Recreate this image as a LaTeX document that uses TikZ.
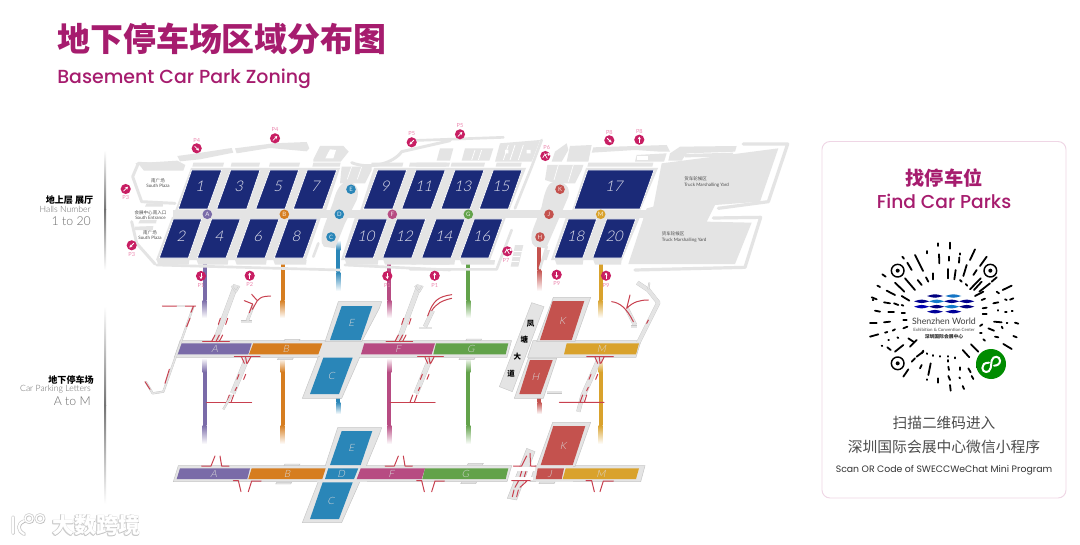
\documentclass[tikz,border=0pt]{standalone}
\usepackage{fontspec}
\usetikzlibrary{arrows.meta,calc,shapes.geometric}
\setmainfont{Lato}
\newfontfamily\cjk{Noto Sans CJK SC}
\newfontfamily\pop{Poppins}
\newfontfamily\popm{Poppins Medium}
\newfontfamily\lgt{Lato Light}
\newfontfamily\hallf{Lato Light}[FakeSlant=0.22]
\definecolor{brand}{HTML}{A61C6E}
\definecolor{hallblue}{HTML}{1B2A78}
\definecolor{ground}{HTML}{E4E4E4}
\definecolor{edgegray}{HTML}{C6C6C6}
\definecolor{pinred}{HTML}{C81E63}
\definecolor{pinlabel}{HTML}{EC86AE}
\definecolor{rampred}{HTML}{C8404F}
\definecolor{cA}{HTML}{7A6BA8}
\definecolor{cB}{HTML}{D67D1F}
\definecolor{cC}{HTML}{2A86B8}
\definecolor{cF}{HTML}{B74B82}
\definecolor{cG}{HTML}{62A24A}
\definecolor{cH}{HTML}{C4524E}
\definecolor{cM}{HTML}{D9A22C}
\definecolor{txtgray}{HTML}{6A6A6A}
\tikzset{
 hallbox/.style={fill=hallblue,draw=white,line width=.5pt},
 plate/.style={fill=ground,draw=edgegray,line width=.35pt},
 roadg/.style={draw=ground,line width=#1,line cap=round,line join=round},
 strip/.style={draw=edgegray,double=ground,double distance=#1,line width=.25pt,line join=round},
 ramp/.style={draw=rampred,line width=.75pt,line cap=round,line join=round},
 pinball/.style={circle,fill=pinred,minimum size=7.6pt,inner sep=0pt},
 pintext/.style={text=pinlabel,font=\fontsize{4.2}{5}\selectfont,inner sep=0pt},
 pinarrow/.style={draw=white,line width=.55pt,-{Stealth[length=2.2pt,width=2.4pt]}},
 zoneball/.style={circle,fill=#1,minimum size=7.2pt,inner sep=0pt,text=white!85!#1,font=\fontsize{4.5}{5}\selectfont},
 halltext/.style={text=white!88!hallblue,font=\hallf\fontsize{11}{12}\selectfont,inner sep=0pt},
 zonetext/.style={text=white!85!black,font=\hallf\fontsize{7.5}{8}\selectfont,inner sep=0pt},
 plazatext/.style={text=black!70,font=\fontsize{3.4}{4}\selectfont,inner sep=0pt,align=center},
 qrdash/.style={draw=black,line width=1.35pt,line cap=round},
}
\newcommand\fadebar[6]{%
 \shade[top color=white,bottom color=#6] (#1-2,#2) rectangle (#1+2,#3);
 \fill[#6] (#1-2,#3-.3) rectangle (#1+2,#4+.3);
 \shade[top color=#6,bottom color=white] (#1-2,#4) rectangle (#1+2,#5);}
\newcommand\pinmark[7]{%
 \node[pinball] (#1) at (#2,#3) {};
 \node[pintext] (#1t) at (#5,#6) {#4};
 \draw[pinarrow] ($(#1.center)+(#7+180:3)$) -- ($(#1.center)+(#7:3.2)$);}
\newcommand\pinturn[6]{%
 \node[pinball] (#1) at (#2,#3) {};
 \node[pintext] (#1t) at (#5,#6) {#4};
 \draw[pinarrow] ($(#1.center)+(-2.5,1.8)$) .. controls +(-.5,-3) and +(3,-3.5) .. ($(#1.center)+(2.6,-.2)$);
 \draw[draw=white,line width=.55pt] ($(#1.center)+(-1,-2.5)$) -- ($(#1.center)+(2,2.5)$);}
\begin{document}
\begin{tikzpicture}[x=.75pt,y=-.75pt]
\useasboundingbox (0,0) rectangle (1080,545);
\fill[white] (0,0) rectangle (1080,545);
% titles
\node[anchor=west,inner sep=0pt,text=brand,font=\cjk\bfseries\fontsize{24.7}{28}\selectfont] (title) at (57,39) {地下停车场区域分布图};
\node[anchor=west,inner sep=0pt,text=brand,font=\popm\fontsize{14.2}{18}\selectfont] (subtitle) at (57,78.5) {Basement Car Park Zoning};
% left rules
\shade[top color=white,bottom color=black!55] (104,150) rectangle (106,210);
\shade[top color=black!55,bottom color=white] (104,210) rectangle (106,270);
\shade[top color=white,bottom color=black!55] (104,306) rectangle (106,405);
\shade[top color=black!55,bottom color=white] (104,405) rectangle (106,504);
% left labels
\node[anchor=east,inner sep=0pt,font=\cjk\bfseries\fontsize{6.8}{8}\selectfont] (l1) at (93.5,200) {地上层 展厅};
\node[anchor=east,inner sep=0pt,text=txtgray,font=\lgt\fontsize{6.5}{8}\selectfont] (l2) at (91,209.5) {Halls Number};
\node[anchor=east,inner sep=0pt,text=txtgray,font=\lgt\fontsize{9.2}{10}\selectfont] (l3) at (91,220.7) {1 to 20};
\node[anchor=east,inner sep=0pt,font=\cjk\bfseries\fontsize{6.8}{8}\selectfont] (l4) at (94,379.5) {地下停车场};
\node[anchor=east,inner sep=0pt,text=txtgray,font=\lgt\fontsize{6.5}{8}\selectfont] (l5) at (91,388.8) {Car Parking Letters};
\node[anchor=east,inner sep=0pt,text=txtgray,font=\lgt\fontsize{9.2}{10}\selectfont] (l6) at (91,401.5) {A to M};
% vertical links
\foreach \xx/\cc in {204.7/cA,282.7/cB,389.3/cF,468.3/cG}{
 \fadebar{\xx}{257}{258}{300}{318}{\cc}
 \fadebar{\xx}{358}{372}{425}{444}{\cc}}
\fadebar{600.7}{219}{240}{300}{318}{cM}
\fadebar{600.7}{358}{372}{425}{444}{cM}
\fadebar{338.3}{240}{250}{272}{291}{cC}
\fadebar{338.3}{396}{398}{402}{414}{cC}
\fadebar{539.3}{244}{246}{270}{291}{cH}
\fadebar{539.3}{396}{398}{402}{414}{cH}
% ground plan: blocks behind halls
\fill[ground] (191,168)--(340,168)--(326,211)--(175,211)--cycle;
\fill[ground] (374,168)--(526,168)--(509,211)--(360,211)--cycle;
\fill[ground] (172,217)--(321,217)--(306,260)--(156,260)--cycle;
\fill[ground] (355,217)--(506,217)--(490,260)--(341,260)--cycle;
\fill[ground] (586,168)--(658,168)--(640,211)--(572,211)--cycle;
\fill[ground] (566,217)--(640,217)--(622,260)--(551,260)--cycle;
\fill[ground] (173,210) rectangle (650,218);
\begin{scope}[shift={(100,120)},x=.25pt,y=-.25pt]
 % hub D
 \fill[ground] (745,185)..controls(770,190)and(780,210)..(770,240)--(735,310)--(705,385)--(672,380)..controls(660,370)and(665,340)..(672,320)--(700,245)..controls(710,205)and(725,185)..(745,185)--cycle;
 % top band
 \fill[ground] (232,108)--(290,100)--(395,84)--(400,98)--(300,118)--(240,124)--cycle;
 \fill[ground] (405,85)--(520,70)--(620,66)--(628,85)--(620,94)--(510,84)--(410,100)--cycle;
 \fill[ground] (640,118)--(660,78)--(730,78)--(746,95)--(722,125)--(640,125)--cycle;
 \fill[white] (676,115)--(690,88)--(708,90)--(700,115)--cycle;
 \path[roadg=2.2pt] (232,135)--(115,130)--(98,170)--(125,245)--(225,250);
 \fill[ground] (105,130)--(232,122)--(256,135)--(250,152)--(132,152)--(118,135)--cycle;
 \fill[ground] (140,250)--(190,250)--(188,260)--(135,260)--cycle;
 \fill[ground] (120,300)--(170,300)--(168,310)--(115,310)--cycle;
 \fill[ground] (105,320)--(160,318)--(158,330)--(102,330)--cycle;
 \path[roadg=2.2pt] (95,305)--(110,370)--(165,432);
 % bars above halls
 \foreach \a/\b in {280/372,395/480,510/600,640/722,815/910,950/1050}{\fill[ground] (\a,128)--(\b,128)--(\b-3,140)--(\a-3,140)--cycle;}
 % east of hub top
 \fill[ground] (725,140)--(815,140)--(815,150)--(795,190)--(720,190)--cycle;
 \path[draw=white,line width=.5pt] (755,140)--(742,178) (785,140)--(772,178);
 \path[roadg=2.2pt] (755,128)..controls(810,150)and(880,130)..(905,95)--(1050,62);
 % bars below halls
 \foreach \a/\b in {170/268,290/385,405/500,520/620,735/835,850/950,965/1050}{\fill[ground] (\a,420)--(\b,420)--(\b-2,434)--(\a+5,434)--cycle;}
 \path[roadg=2pt] (170,435)--(720,450);
 \path[roadg=2pt] (640,410)--(655,370);
 \path[roadg=2pt] (735,435)--(1050,450);
\end{scope}
\begin{scope}[shift={(440,120)},x=.25pt,y=-.25pt]
 \fill[ground] (345,185)..controls(375,185)and(392,200)..(385,230)--(355,300)--(318,385)--(285,380)..controls(270,370)and(272,345)..(280,325)--(305,260)..controls(315,210)and(325,185)..(345,185)--cycle;
 \foreach \a/\b in {-90/20,35/135,170/245,445/640}{\fill[ground] (\a,128)--(\b,128)--(\b-3,140)--(\a-3,140)--cycle;}
 \foreach \a/\b in {-90/45,60/165,345/430,460/545}{\fill[ground] (\a,420)--(\b,420)--(\b-2,434)--(\a+5,434)--cycle;}
 \path[roadg=2pt] (-90,448)--(170,448)--(215,330);
 \path[roadg=2pt] (-90,62)--(190,52);
 \fill[ground] (0,85)--(40,85)--(30,122)--(-10,122)--cycle;
 \fill[ground] (75,85)--(160,85)--(148,122)--(65,122)--cycle;
 \draw[white,line width=.5pt] (105,90)--(95,120) (125,90)--(115,120);
 \fill[ground] (180,70)--(300,60)--(275,125)--(165,125)--cycle;
 \draw[white,line width=.6pt] (205,75)--(190,120) (225,75)--(210,120) (250,75)--(235,120);
 \fill[white] (260,90) rectangle (272,100) (195,90) rectangle (205,100);
 \path[roadg=2pt] (305,60)--(275,140)--(225,265);
 \fill[ground] (322,135)--(430,135)--(425,150)--(405,190)--(345,190)--(315,180)--cycle;
 \draw[white,line width=.5pt] (355,135)--(342,180) (400,135)--(385,185);
 \fill[ground] (345,95)--(380,70)--(385,90)--(365,125)--(335,125)--cycle;
 \fill[ground] (390,78)--(455,75)--(445,125)--(380,125)--cycle;
 \fill[ground] (460,82)--(680,75)--(690,95)--(660,95)--(585,90)--(455,98)--cycle;
 \fill[ground] (590,105)--(680,100)--(672,125)--(585,125)--cycle;
 \fill[white] (590,108) rectangle (625,120);
 \fill[ground] (690,100)--(720,80)--(890,78)--(885,95)--(740,100)--(725,122)--(685,122)--cycle;
 \fill[ground] (735,102)--(880,98)--(875,110)--(735,112)--cycle;
 % truck yards
 \fill[ground] (665,130)--(900,100)--(1015,85)--(960,245)--(825,255)--(800,305)--(935,308)--(885,432)--(565,432)--(620,265)--(640,260)--cycle;
 \path[roadg=2.4pt] (910,72)--(1043,72)--(985,245)--(835,265);
 \path[roadg=2.4pt] (820,294)--(962,292)--(915,442)--(585,450);
 % small lots near P7
 \fill[ground] (225,375)--(250,375)--(235,440)--(212,440)--cycle;
 \draw[white,line width=.4pt] (222,395)--(245,395) (218,410)--(240,410) (214,425)--(236,425);
 \path[roadg=2pt] (320,380)--(300,445);
 \fill[ground] (315,390)--(330,390)--(320,420)--(305,420)--cycle;
\end{scope}
% halls
\foreach \n/\ta/\tb/\ba/\bb in {1/191.7/221.7/178.3/207.7,3/230.7/260/216.7/246.7,5/270/298.7/255.7/285,7/307.3/336.7/293.3/322.7,9/377.7/406.7/363.3/392.7,11/416/445.3/401.7/431,13/455/484/441/470,15/493.3/522/479.3/508.3,17/587.7/654/574/640}{
 \path[hallbox] (\ta,170)--(\tb,170)--(\bb,209)--(\ba,209)--cycle;
 \node[halltext] (h\n) at ({(\ta+\bb)/2},186.5) {\n};}
\foreach \n/\ta/\tb/\ba/\bb in {2/173.3/201.7/159.3/188.3,4/211.7/240.3/197.3/226,6/250/279/236/265,8/288.3/317.3/274.3/303.3,10/358.3/387.3/344.3/373.3,12/396.7/425.7/382.7/411.7,14/436/465/421.7/451,16/474.3/502.7/460/488.7,18/568.3/596.7/554.3/582.7,20/606.7/635.7/592.7/621.7}{
 \path[hallbox] (\ta,219)--(\tb,219)--(\bb,258)--(\ba,258)--cycle;
 \node[halltext] (h\n) at ({(\ta+\bb)/2},236.5) {\n};}
% zone balls
\foreach \n/\xx/\yy/\cc in {A/207.3/214.3/cA,B/284.3/214.3/cB,E/351/189.3/cC,D/339.3/214.3/cC,C/331/237/cC,F/392.3/214.3/cF,G/468.3/214.3/cG,K/560/189.3/cH,J/549/214.3/cH,H/540/237/cH,M/600.7/214.3/cM}{
 \node[zoneball=\cc] (b\n) at (\xx,\yy) {\n};}
% plaza labels
\node[plazatext] (pz1) at (158,183) {{\cjk 南广场}\\South Plaza};
\node[plazatext] (pz2) at (150.5,215) {{\cjk 会展中心南入口}\\South Entrance};
\node[plazatext] (pz3) at (150,235) {{\cjk 南广场}\\South Plaza};
\node[plazatext,align=left,anchor=west] (ty1) at (684,182) {{\cjk 货车轮候区}\\Truck Marshalling Yard};
\node[plazatext,align=left,anchor=west] (ty2) at (661.5,237) {{\cjk 货车轮候区}\\Truck Marshalling Yard};
% pins
\pinmark{p1}{196.7}{148.3}{P4}{196.7}{140}{45}
\pinmark{p2}{275}{138.3}{P4}{275}{129.5}{-45}
\pinmark{p3}{411.7}{142.3}{P5}{411.7}{134}{135}
\pinmark{p4}{460}{134.3}{P5}{460}{125.7}{-45}
\pinmark{p5}{609.3}{140.3}{P8}{609.3}{132}{45}
\pinmark{p6}{639.3}{139.7}{P8}{639.3}{131.3}{-90}
\pinturn{p7}{545.3}{156}{P6}{546.7}{147.3}
\pinturn{p8}{507.3}{251.3}{P7}{506}{260.7}
\pinmark{p9}{556.7}{274.7}{P9}{556.7}{283.3}{90}
\pinmark{p10}{606}{275.7}{P9}{606}{285}{-90}
\pinmark{p11}{125.7}{189}{P3}{125.7}{197.3}{-45}
\pinmark{p12}{131.7}{245.3}{P3}{131.7}{254}{135}
\pinmark{p13}{201}{276}{P1}{201}{285}{90}
\pinmark{p14}{249.7}{275.7}{P2}{249.7}{284.7}{-90}
\pinmark{p15}{387.3}{276}{P1}{387.3}{285}{90}
\pinmark{p16}{434.7}{275.7}{P1}{434.7}{285}{-90}
% ---------- basement levels: plates
\path[plate] (180,340.7)--(511.5,340.7)--(507,357.3)--(174.3,357.3)--cycle;
\path[plate] (533,340.7)--(641,340.7)--(636,357.3)--(527.5,357.3)--cycle;
\path[plate] (178.3,465.7)--(511.7,465.7)--(507,481.7)--(173.3,481.7)--cycle;
\path[plate] (535,465.7)--(645,465.7)--(640.7,481.7)--(530,481.7)--cycle;
\begin{scope}[shift={(130,280)},x=.25pt,y=-.25pt]
 \path[plate] (625,65)--(755,65)--(748,85)--(695,185)--(585,185)--cycle;
 \path[plate] (565,230)--(690,230)--(635,355)--(517,355)--cycle;
 \path[plate] (623,443)--(755,443)--(748,463)--(708,560)--(585,560)--cycle;
 \path[plate] (565,604)--(690,604)--(635,728)--(517,728)--cycle;
 \fill[ground] (570,185) rectangle (700,232);
 \fill[ground] (560,558) rectangle (712,606);
 \foreach \a/\yy in {465/178,445/234,465/552,440/607}{\path[plate] (\a,\yy)--(\a+45,\yy)--(\a+42,\yy+5)--(\a-3,\yy+5)--cycle;}
\end{scope}
\begin{scope}[shift={(400,280)},x=.25pt,y=-.25pt]
 \path[plate] (460,52)--(572,52)--(525,185)--(410,185)--cycle;
 \path[plate] (385,235)--(470,235)--(430,355)--(343,355)--cycle;
 \path[plate] (458,427)--(572,427)--(525,560)--(410,560)--cycle;
 \fill[ground] (405,187) rectangle (520,232);
 \fill[ground] (408,555) rectangle (520,605);
 \fill[ground,draw=edgegray,line width=.3pt] (395,68)--(432,80)--(337,335)--(298,320)--cycle;
 \foreach \a/\yy in {200/177,180/234,205/550,185/606,420/606}{\path[plate] (\a,\yy)--(\a+45,\yy)--(\a+42,\yy+5)--(\a-3,\yy+5)--cycle;}
 \path[strip=1.4pt] (440,337)--(485,337);
 \foreach \n/\t/\xx/\yy in {r1/凤/392/130,r2/塘/373/180,r3/大/352/231,r4/道/333/281}{
  \node[inner sep=0pt,font=\cjk\bfseries\fontsize{5.6}{6}\selectfont] (\n) at (\xx,\yy) {\t};}
\end{scope}
% zones
\foreach \n/\l/\cc/\ax/\ay/\bx/\by/\ex/\ey/\fx/\fy in {
 za/A/cA/181/343.3/251.7/343.3/248.3/354.3/177.3/354.3,
 zb/B/cB/253.3/343.3/322.3/343.3/318.3/354.3/249/354.3,
 ze/E/cC/341.7/306/372.3/306/360.7/340/330/340,
 zc/C/cC/323.3/357.7/352.7/357.7/339/394/310/394,
 zf/F/cF/364.3/343.3/435/343.3/431.7/354.3/361/354.3,
 zg/G/cG/436/343.3/508.3/343.3/505.7/354.3/433.3/354.3,
 zk/K/cH/552.7/301/584.3/301/571.7/340/540/340,
 zm/M/cM/566.7/343.3/639/343.3/636/354.3/564/354.3,
 zh/H/cH/530/360/552.7/360/540.7/394/519.3/394,
 ya/A/cA/180/468.3/250/468.3/247.3/479/176.7/479,
 yb/B/cB/251.7/468.3/325.7/468.3/322.3/479/248.3/479,
 yd/D/cC/328.3/468.3/358.3/468.3/354/479/325/479,
 yf/F/cF/360.7/468.3/425/468.3/421.7/479/356.7/479,
 yg/G/cG/425/468.3/508.3/468.3/505.7/479/422.3/479,
 ye/E/cC/341.7/431/372.3/431/360.7/465/330/465,
 yc/C/cC/322.7/482.3/352.7/482.3/339/519/310/519,
 yj/J/cH/537.7/468.3/564/468.3/561.7/479/535.7/479,
 ym/M/cM/565.7/468.3/639/468.3/636/479/562.7/479,
 yk/K/cH/553.3/426/585.3/426/572.7/465/540.7/465}{
 \fill[\cc] (\ax,\ay)--(\bx,\by)--(\ex,\ey)--(\fx,\fy)--cycle;
 \node[zonetext] (\n) at ({(\ax+\ex)/2},{(\ay+\ey)/2}) {\l};}
% ramps
\begin{scope}[shift={(130,280)},x=.25pt,y=-.25pt]
 \foreach \dx in {0,550}{
  \path[strip=3.4pt] (\dx+318,15)--(\dx+255,185);
  \path[strip=.9pt] (\dx+305,18)--(\dx+318,35)--(\dx+328,18);
  \path[ramp] (\dx+218,184)--(\dx+298,184);
  \path[ramp] (\dx+245,184)--(\dx+255,165) (\dx+258,184)--(\dx+268,165) (\dx+268,184)--(\dx+278,165);
  \path[ramp] (\dx+271,115)--(\dx+265,133) (\dx+293,115)--(\dx+287,133);
  \path[strip=3.4pt] (\dx+352,232)--(\dx+308,340);
  \path[ramp] (\dx+313,230)--(\dx+390,230);
  \path[ramp] (\dx+335,232)--(\dx+343,250) (\dx+347,232)--(\dx+350,250) (\dx+352,250)--(\dx+362,232);
  \path[ramp] (\dx+327,283)--(\dx+321,298) (\dx+347,283)--(\dx+341,298) (\dx+320,322)--(\dx+315,332);
  \path[ramp] (\dx+230,367)--(\dx+365,367);
  \path[ramp] (\dx+290,367)--(\dx+298,345) (\dx+303,367)--(\dx+311,345);
 }
 \path[strip=1.1pt] (305,345)--(280,388);
 % left long ramp
 \path[strip=1.1pt] (190,80)--(100,335)--(68,340)--(47,305);
 \path[ramp] (97,78)--(140,78) (165,78)--(197,78) (190,80)--(183,97) (180,115)--(170,140) (118,268)--(105,310) (45,305)--(60,328);
 \path[strip=1.1pt] (140,78)--(165,78);
 % y ramp left
 \path[strip=1.7pt] (332,125)--(365,125);
 \path[strip=1.9pt] (352,122)--(370,75);
 \path[ramp] (343,62)--(368,72)--(358,98) (365,43)--(382,62)--(367,88) (382,62)..controls(395,50)..(422,48);
 % y ramp F
 \path[strip=1.7pt] (868,144)--(905,144);
 \path[strip=2.7pt] (885,140)--(908,92);
 \path[ramp] (893,108)..controls(910,60)and(925,50)..(965,44);
 \path[ramp] (905,92)..controls(920,70)and(935,62)..(965,55);
 % lower level stubs
 \foreach \dx in {0,550}{
  \path[ramp] (\dx+215,558)--(\dx+243,558)--(\dx+255,528) (\dx+270,528)--(\dx+275,558)--(\dx+297,558);
  \path[ramp] (\dx+310,602)--(\dx+325,602)--(\dx+333,635) (\dx+355,635)--(\dx+365,603)--(\dx+393,603);}
\end{scope}
\begin{scope}[shift={(400,280)},x=.25pt,y=-.25pt]
 % M ramp below
 \path[strip=3.4pt] (600,232)--(550,345);
 \path[strip=2.7pt] (548,345)--(535,395);
 \path[ramp] (560,230)--(640,230) (585,232)--(593,250) (598,232)--(600,250) (603,250)--(612,232);
 \path[ramp] (573,283)--(567,298) (593,283)--(587,298) (565,322)--(560,332);
 \path[ramp] (478,367)--(612,367) (540,367)--(548,345) (553,367)--(560,345);
 % top right ramp
 \path[strip=2.7pt] (712,8)--(745,30)--(775,68)--(715,188);
 \path[strip=.9pt] (748,8)--(745,28);
 \path[strip=2.7pt] (680,85)--(705,135);
 \path[strip=1.7pt] (693,140)--(712,140);
 \path[ramp] (635,65)..controls(660,68)and(680,85)..(700,125);
 \path[ramp] (690,45)--(680,85) (680,85)..controls(700,65)and(720,60)..(745,60);
 \path[ramp] (745,120)--(740,130);
 % lower J ramp strip
 \fill[ground,draw=edgegray,line width=.3pt] (380,505)--(405,515)--(350,660)--(322,655)--cycle;
 \fill[white] (335,562) rectangle (405,572);
 \fill[white] (330,590) rectangle (398,600);
 \path[ramp] (340,558)--(365,558)--(380,528) (390,520)--(392,558)--(408,558);
 \path[ramp] (365,574)--(360,590) (378,574)--(373,590);
 \path[ramp] (335,602)--(390,602) (355,604)--(345,622) (380,604)--(360,622);
 \path[ramp] (337,650)--(342,630) (350,650)--(355,630);
 % lower M stubs
 \path[ramp] (558,602)--(575,602)--(583,635) (600,635)--(610,603)--(640,603);
\end{scope}
% ------ card
\draw[draw=brand!18,line width=.7pt,fill=white,rounded corners=6pt] (822,141.5) rectangle (1066,498);
\node[text=brand,font=\cjk\bfseries\fontsize{14.4}{16}\selectfont,inner sep=0pt] (c1) at (944,177.7) {找停车位};
\node[text=brand,font=\popm\fontsize{14}{16}\selectfont,inner sep=0pt] (c2) at (944,201.7) {Find Car Parks};
\node[text=black!70,font=\cjk\fontsize{11}{13}\selectfont,inner sep=0pt] (c3) at (944,423.3) {扫描二维码进入};
\node[text=black!70,font=\cjk\fontsize{11.1}{13}\selectfont,inner sep=0pt] (c4) at (944,446.7) {深圳国际会展中心微信小程序};
\node[text=black!80,font=\pop\fontsize{7}{9}\selectfont,inner sep=0pt] (c5) at (944,470) {Scan OR Code of SWECCWeChat Mini Program};
% QR
\begin{scope}[shift={(820,140)},x=.25pt,y=-.25pt]
 \foreach \a/\b/\c/\d in {353/310/353/318,390/308/390/326,322/333/322/340,285/345/309/393,357/343/358/370,388/350/388/362,421/340/421/344,418/352/417/368,465/328/450/360,500/350/480/378,247/350/252/356,262/368/275/390,187/403/197/410,172/437/180/441,225/428/253/455,255/415/285/450,200/452/225/465,245/468/268/482,155/472/170/478,293/420/305/435,318/412/325/425,340/400/340/418,383/387/383/415,407/390/403/418,440/375/430/408,470/390/460/405,420/420/425/425,437/432/442/437,450/448/482/415,462/450/485/425,510/430/478/455,530/412/515/425,575/437/548/450,465/468/490/455,530/455/537/460,485/480/495/476,580/475/570/479,520/490/535/487,555/478/560/480,488/505/500/503,535/510/535/512,555/516/560/516,575/512/578/512,488/522/500/522,522/545/545/547,560/548/562/548,585/548/595/551,505/565/522/572,480/558/487/553,480/580/485/580,545/560/548/565,580/588/590/592,525/590/535/592,490/598/495/602,550/612/575/627,453/613/475/635,428/630/448/652,405/652/405/655,385/648/385/650,360/648/360/650,340/645/340/648,320/640/322/642,305/640/310/632,270/620/290/600,225/635/250/615,265/595/280/605,202/622/212/630,185/617/187/618,150/590/175/583,195/578/202/576,218/572/225/568,250/565/262/560,150/550/170/550,192/547/210/545,250/540/260/540,165/512/180/515,205/517/222/517,245/520/255/520,192/487/210/490,222/490/235/495,158/480/160/480,245/495/250/497,205/600/207/600,232/592/235/594,290/650/310/635,275/665/285/655,305/675/300/685,332/670/325/705,250/710/265/688,355/715/355/728,385/708/390/720,390/735/392/752,428/738/432/747,322/718/322/720,385/660/385/665,385/680/387/690,420/682/420/690,418/712/420/715,445/685/452/697,455/708/460/717,470/680/472/682}{
  \draw[qrdash] (\a,\b)--(\c,\d);}
 \foreach \qx/\qy in {233/392,511/392,233/670}{
  \draw[line width=1.1pt] (\qx,\qy) circle[radius=19];
  \fill (\qx,\qy) circle[radius=6];}
 % mark
 \foreach \qx/\qy/\w/\cc in {345/468/24/blue!50!black,400/468/24/cyan!55!blue,305/484/23/blue!55!black,350/484/23/cyan!60!blue,395/484/23/blue!55!black,440/484/23/blue!55!black,305/500/23/blue!70!black,350/500/23/blue!50!black,395/500/23/cyan!60!blue,440/500/23/blue!50!black,345/515/24/blue!60!black,400/515/24/blue!60!black}{
  \fill[\cc] (\qx-\w,\qy)..controls(\qx,\qy-7)..(\qx+\w,\qy)..controls(\qx,\qy+7)..(\qx-\w,\qy)--cycle;}
 \node[inner sep=0pt,text=black!75,font=\fontsize{6.6}{7}\selectfont] (sw1) at (372,543) {Shenzhen World};
 \node[inner sep=0pt,text=black!70,font=\fontsize{3.3}{4}\selectfont] (sw2) at (372,570) {Exhibition \& Convention Center};
 \node[inner sep=0pt,text=black!80,font=\cjk\bfseries\fontsize{3.6}{4}\selectfont] (sw3) at (372,591) {深圳国际会展中心};
 \fill[green!55!black] (513,672) circle[radius=45];
 \draw[white,line width=1.5pt,line cap=round] (507,668)..controls(492,668)and(487,675)..(487,684)..controls(487,698)and(508,702)..(512,684)--(515,662)..controls(519,645)and(540,648)..(540,662)..controls(540,672)and(532,677)..(522,677);
\end{scope}
% watermark
\foreach \ox/\oy/\cc in {.7/.7/black!28,-.5/-.5/black!20,.7/-.5/black!20,-.5/.7/black!20,0/0/white}{
 \node[text=\cc,inner sep=0pt,font=\cjk\bfseries\fontsize{16.5}{18}\selectfont] (wm) at (96+\ox,525.5+\oy) {大数跨境};
 \draw[draw=\cc,line width=1.5pt,line cap=round] (13+\ox,517+\oy)--(13+\ox,533+\oy) (24+\ox,521+\oy)..controls(17+\ox,524+\oy)and(17+\ox,530+\oy)..(24+\ox,534+\oy);
 \draw[draw=\cc,line width=1pt] (29+\ox,518.5+\oy) circle[radius=4] (40+\ox,518.5+\oy) circle[radius=4];
}
\end{tikzpicture}
\end{document}
